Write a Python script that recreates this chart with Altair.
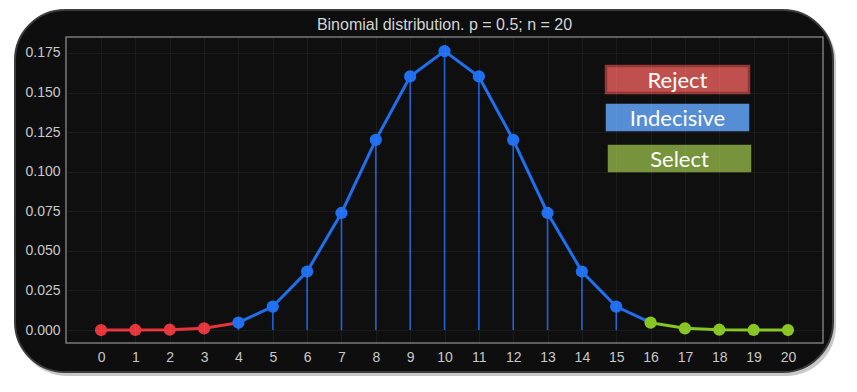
import altair as alt
import pandas as pd

# ---- data ----
k = list(range(21))
pmf = [0.00000095, 0.0000191, 0.000181, 0.001087, 0.004621, 0.014786, 0.036964,
       0.073929, 0.120134, 0.160179, 0.176197, 0.160179, 0.120134, 0.073929,
       0.036964, 0.014786, 0.004621, 0.001087, 0.000181, 0.0000191, 0.00000095]
zones = ["Reject", "Indecisive", "Select"]
zone_colors = ["#e5343b", "#1f6ff0", "#86c522"]
box_fills = ["#c0504d", "#558ed5", "#77933c"]
reject_last = 3      # last point in the Reject zone
select_first = 16    # first point in the Select zone
y_ticks = [0, 0.025, 0.05, 0.075, 0.1, 0.125, 0.15, 0.175]
title_text = "Binomial distribution. p = 0.5; n = 20"

W, H = 757, 306


def zone_of(i):
    if i <= reject_last:
        return zones[0]
    if i >= select_first:
        return zones[2]
    return zones[1]


points = pd.DataFrame({"k": k, "p": pmf, "zone": [zone_of(i) for i in k]})

# line segments (boundary points shared between neighbouring zones)
seg_rows = []
for i, v in zip(k, pmf):
    if i <= reject_last + 1:
        seg_rows.append({"k": i, "p": v, "zone": zones[0]})
    if reject_last + 1 <= i <= select_first:
        seg_rows.append({"k": i, "p": v, "zone": zones[1]})
    if i >= select_first:
        seg_rows.append({"k": i, "p": v, "zone": zones[2]})
segments = pd.DataFrame(seg_rows)
stems = points[points["zone"] == zones[1]]

xs = alt.Scale(domain=[-1.02, 21.02], nice=False, zero=False)
ys = alt.Scale(domain=[-0.0082, 0.1851], nice=False, zero=False)
cs = alt.Scale(domain=zones, range=zone_colors)

xaxis = alt.Axis(values=k, title=None, ticks=False, domain=False, labelColor="#c8c8c8",
                 labelFontSize=14, labelFont="Liberation Sans", labelPadding=7,
                 grid=True, gridColor="#ffffff", gridOpacity=0.05, zindex=1)
yaxis = alt.Axis(values=y_ticks, format=".3f", title=None, ticks=False, domain=False,
                 labelColor="#c8c8c8", labelFontSize=14, labelFont="Liberation Sans",
                 labelPadding=6, grid=True, gridColor="#ffffff", gridOpacity=0.05, zindex=1)

one = pd.DataFrame({"a": [0]})

shadow = alt.Chart(one).mark_rect(cornerRadius=50, fill="#b0b0b0", opacity=0.7).encode(
    x=alt.value(-49), x2=alt.value(770), y=alt.value(-25), y2=alt.value(339))
panel = alt.Chart(one).mark_rect(cornerRadius=50, fill="#0e0e0e", stroke="#3c3c3c",
                                 strokeWidth=2).encode(
    x=alt.value(-51), x2=alt.value(767), y=alt.value(-27), y2=alt.value(335))
frame = alt.Chart(one).mark_rect(fill="#0f0f0f", stroke="#7a7a7a", strokeWidth=1.5).encode(
    x=alt.value(0), x2=alt.value(W), y=alt.value(0), y2=alt.value(H))
title = alt.Chart(one).mark_text(text=title_text, color="#d4d4d4", font="Liberation Sans",
                                 fontSize=16, align="center", baseline="middle").encode(
    x=alt.value(W / 2), y=alt.value(-12))

stem = alt.Chart(stems).mark_rule(color="#1c5ed6", strokeWidth=1.6).encode(
    x=alt.X("k:Q", scale=xs, axis=xaxis),
    y=alt.Y("p:Q", scale=ys, axis=yaxis),
    y2=alt.datum(0))

line = alt.Chart(segments).mark_line(strokeWidth=3).encode(
    x=alt.X("k:Q", scale=xs, axis=xaxis),
    y=alt.Y("p:Q", scale=ys, axis=yaxis),
    color=alt.Color("zone:N", scale=cs, legend=None),
    detail="zone:N")

dots = alt.Chart(points).mark_circle(size=150, opacity=1).encode(
    x=alt.X("k:Q", scale=xs, axis=xaxis),
    y=alt.Y("p:Q", scale=ys, axis=yaxis),
    color=alt.Color("zone:N", scale=cs, legend=None))

# annotation boxes (legend)
box_geo = [(540, 683, 29, 56), (541, 682, 68, 93), (543, 684, 109, 134)]
box_strokes = ["#943634", box_fills[1], box_fills[2]]
legend_layers = []
for (x1, x2, y1, y2), lab, fill, stroke in zip(box_geo, zones, box_fills, box_strokes):
    legend_layers.append(
        alt.Chart(one).mark_rect(fill=fill, stroke=stroke, strokeWidth=2.5).encode(
            x=alt.value(x1), x2=alt.value(x2), y=alt.value(y1), y2=alt.value(y2)))
    legend_layers.append(
        alt.Chart(one).mark_text(text=lab, color="white", font="Lato", fontSize=22,
                                 align="center", baseline="middle").encode(
            x=alt.value((x1 + x2) / 2), y=alt.value((y1 + y2) / 2 + 1)))

chart = alt.layer(shadow, panel, frame, title, stem, line, dots, *legend_layers).properties(
    width=W, height=H,
    padding={"left": 58, "top": 29, "right": 26, "bottom": 41},
    autosize="none",
).configure(background="white").configure_view(stroke=None)

chart.save("out.html", embed_options={"renderer": "svg", "actions": False})
